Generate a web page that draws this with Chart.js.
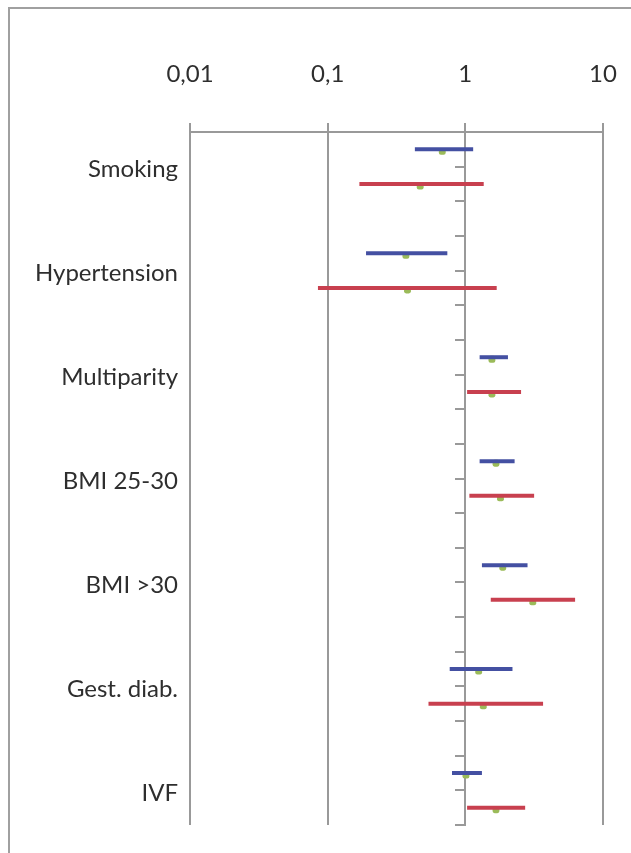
<!DOCTYPE html>
<html>
<head>
<meta charset="utf-8">
<script src="https://cdn.jsdelivr.net/npm/chart.js@4.4.1/dist/chart.umd.min.js"></script>
<style>
  html, body { margin: 0; padding: 0; background: #ffffff; overflow: hidden; }
  #wrap { position: relative; width: 631px; height: 853px; }
</style>
</head>
<body>
<div id="wrap"><canvas id="c" width="631" height="853"></canvas></div>
<script>
// ---- data ----
const categories = ['Smoking', 'Hypertension', 'Multiparity', 'BMI 25-30', 'BMI >30', 'Gest. diab.', 'IVF'];
const blueEst  = [0.68, 0.37, 1.56, 1.67, 1.87, 1.25, 1.01];
const blueLow  = [0.43, 0.19, 1.27, 1.27, 1.32, 0.77, 0.80];
const blueHigh = [1.14, 0.74, 2.04, 2.28, 2.83, 2.20, 1.32];
const redEst   = [0.47, 0.38, 1.56, 1.80, 3.09, 1.35, 1.67];
const redLow   = [0.17, 0.085, 1.03, 1.07, 1.53, 0.54, 1.03];
const redHigh  = [1.36, 1.69, 2.54, 3.16, 6.27, 3.67, 2.72];
const xTickValues = [0.01, 0.1, 1, 10];
const xTickLabels = ['0,01', '0,1', '1', '10'];

// ---- style ----
const BLUE = '#4450A2';
const RED = '#C8404F';
const GREEN = '#9BBB59';
const GRID = '#999999';
const TEXT = '#2e2e2e';
const FONT = { family: 'Lato', size: 24 };

const rowBlue = i => 3 * i + 0.5;
const rowRed = i => 3 * i + 1.5;
const rowLabel = i => 3 * i + 1;

const datasets = [];
categories.forEach((c, i) => {
  datasets.push({
    label: c + ' A',
    data: [{ x: blueLow[i], y: rowBlue(i) }, { x: blueHigh[i], y: rowBlue(i) }],
    borderColor: BLUE, borderWidth: 4, pointRadius: 0, borderCapStyle: 'butt'
  });
  datasets.push({
    label: c + ' B',
    data: [{ x: redLow[i], y: rowRed(i) }, { x: redHigh[i], y: rowRed(i) }],
    borderColor: RED, borderWidth: 4, pointRadius: 0, borderCapStyle: 'butt'
  });
});
datasets.push({
  label: 'estimates',
  showLine: false,
  data: categories.flatMap((c, i) => [{ x: blueEst[i], y: rowBlue(i) + 0.06 }, { x: redEst[i], y: rowRed(i) + 0.06 }]),
  pointStyle: 'rectRounded', pointRadius: 4, backgroundColor: GREEN, borderColor: GREEN, borderWidth: 0
});

const framePlugin = {
  id: 'frame',
  beforeDraw(chart) {
    const ctx = chart.ctx;
    ctx.save();
    ctx.strokeStyle = '#a0a0a0';
    ctx.lineWidth = 2;
    ctx.beginPath();
    ctx.moveTo(9, 860);
    ctx.lineTo(9, 8);
    ctx.lineTo(640, 8);
    ctx.stroke();
    ctx.restore();
  }
};

new Chart(document.getElementById('c'), {
  type: 'line',
  data: { datasets },
  plugins: [framePlugin],
  options: {
    responsive: false,
    animation: false,
    layout: { padding: { left: 0, top: 0, right: 28, bottom: 28 } },
    plugins: { legend: { display: false }, tooltip: { enabled: false } },
    scales: {
      x: {
        type: 'logarithmic',
        position: 'top',
        min: 0.01,
        max: 10,
        afterBuildTicks: s => { s.ticks = xTickValues.map(v => ({ value: v })); },
        afterFit: s => { s.height = 132; s.paddingLeft = 0; s.paddingRight = 0; },
        ticks: {
          color: TEXT, font: FONT, padding: 34, autoSkip: false, maxRotation: 0,
          callback: (v, i) => xTickLabels[i]
        },
        grid: { color: GRID, lineWidth: 2, tickLength: 9, drawTicks: true },
        border: { display: true, color: GRID, width: 2 }
      },
      y: {
        type: 'linear',
        position: 'left',
        min: 0,
        max: 20,
        reverse: true,
        afterBuildTicks: s => { s.ticks = categories.map((c, i) => ({ value: rowLabel(i) })); },
        afterFit: s => { s.width = 190; s.paddingTop = 0; s.paddingBottom = 0; },
        ticks: {
          color: TEXT, font: FONT, padding: 12, autoSkip: false, labelOffset: 3,
          callback: (v, i) => categories[i]
        },
        grid: { display: false, drawTicks: false },
        border: { display: false }
      },
      yMid: {
        type: 'linear',
        axis: 'y',
        position: { x: 1 },
        min: 0,
        max: 20,
        reverse: true,
        afterFit: s => { s.width = 0; s.paddingTop = 0; s.paddingBottom = 0; },
        ticks: { display: false, stepSize: 1, autoSkip: false },
        grid: { drawOnChartArea: false, color: GRID, lineWidth: 2, tickLength: 9, drawTicks: true },
        border: { display: true, color: GRID, width: 2 }
      }
    }
  }
});
</script>
</body>
</html>
